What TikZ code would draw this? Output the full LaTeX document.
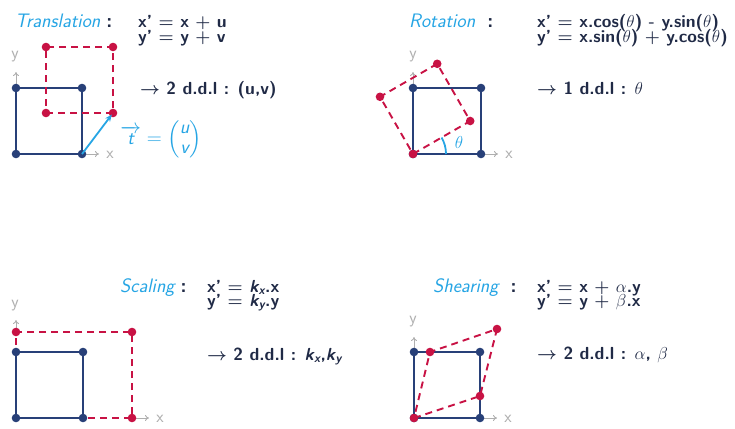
\documentclass[tikz,border=0pt]{standalone}
\usepackage{amsmath}
\usetikzlibrary{arrows.meta}
\definecolor{sqblue}{RGB}{40,64,120}
\definecolor{sqred}{RGB}{200,18,68}
\definecolor{ttl}{RGB}{38,165,228}
\definecolor{txt}{RGB}{32,42,70}
\definecolor{axg}{RGB}{175,175,175}
\newcommand{\si}[1]{\text{\sffamily\itshape #1}}
\newcommand{\beq}{{\boldmath$=$}}
\newcommand{\bpl}{{\boldmath$+$}}
\newcommand{\barr}{{\boldmath$\rightarrow$}}
\begin{document}
\begin{tikzpicture}[x=1pt,y=-1pt,
  every node/.style={font=\fontsize{18}{18}\selectfont\sffamily, text=txt, inner sep=0pt},
  bline/.style={draw=sqblue, line width=2.2pt},
  rline/.style={draw=sqred, line width=1.9pt, dash pattern=on 7pt off 5pt},
  axis/.style={draw=axg, line width=0.9pt, -{To[length=4pt,width=6pt]}},
  axlab/.style={text=axg, font=\fontsize{17}{17}\selectfont\sffamily},
  eqn/.style={anchor=base west, font=\fontsize{17.5}{18}\selectfont\sffamily\bfseries},
  ttlc/.style={anchor=base west, font=\fontsize{19.5}{20}\selectfont\sffamily}]
\useasboundingbox (0,0) rectangle (735,428);

% ---------- Translation ----------
\coordinate (tA) at (16,154); \coordinate (tB) at (82,154);
\coordinate (tC) at (82,88);  \coordinate (tD) at (16,88);
\coordinate (tE) at (46,113); \coordinate (tF) at (113,113);
\coordinate (tG) at (113,47); \coordinate (tH) at (46,47);
\coordinate (tX) at (99,154); \coordinate (tY) at (16,72);
\draw[axis] (tB) -- (tX);
\draw[axis] (tD) -- (tY);
\node[axlab] (tXl) at (110,155) {x};
\node[axlab] (tYl) at (15,57) {y};
\draw[bline] (tA) -- (tB) -- (tC) -- (tD) -- cycle;
\foreach \p in {tA,tB,tC,tD} \fill[sqblue] (\p) circle (4.3pt);
\draw[rline] (tE) -- (tF) -- (tG) -- (tH) -- cycle;
\foreach \p in {tE,tF,tG,tH} \fill[sqred] (\p) circle (4.3pt);
\draw[draw=ttl, line width=1.8pt, -{Stealth[length=7pt,width=6pt]}, shorten >=2pt] (tB) -- (tF);
\node[ttlc] (tT) at (15,28) {{\color{ttl}\itshape Translation} \textbf{:}};
\node[eqn] (tE1) at (138,28) {x' \beq{} x \bpl{} u};
\node[eqn] (tE2) at (138,42) {y' \beq{} y \bpl{} v};
\node[eqn] (tD1) at (140,94) {\barr{} 2 d.d.l : (u,v)};
\node[text=ttl, font=\fontsize{19.5}{20}\selectfont\sffamily] (tV) at (161,139) {\color{ttl}$\overrightarrow{\si{t}} = \begin{pmatrix}\si{u}\\ \si{v}\end{pmatrix}$};

% ---------- Rotation ----------
\coordinate (rA) at (413,154); \coordinate (rB) at (481,154);
\coordinate (rC) at (481,88);  \coordinate (rD) at (413,88);
\coordinate (rF) at (470.2,121); \coordinate (rG) at (437.2,63.8);
\coordinate (rH) at (380,96.8);
\coordinate (rX) at (498,154); \coordinate (rY) at (413,72);
\draw[axis] (rB) -- (rX);
\draw[axis] (rD) -- (rY);
\node[axlab] (rXl) at (509,155) {x};
\node[axlab] (rYl) at (413,57) {y};
\draw[bline] (rA) -- (rB) -- (rC) -- (rD) -- cycle;
\foreach \p in {rA,rB,rC,rD} \fill[sqblue] (\p) circle (4.3pt);
\draw[rline] (rA) -- (rF) -- (rG) -- (rH) -- cycle;
\foreach \p in {rA,rF,rG,rH} \fill[sqred] (\p) circle (4.3pt);
\draw[draw=ttl, line width=1.8pt] (446,154) arc[start angle=0, end angle=30, radius=33pt];
\node[text=ttl, font=\fontsize{19}{20}\selectfont\sffamily] (rTh) at (459,142) {\color{ttl}$\theta$};
\node[ttlc] (rT) at (409,28) {{\color{ttl}\itshape Rotation} \ \textbf{:}};
\node[eqn] (rE1) at (537,28) {x' \beq{} x.cos($\theta$) - y.sin($\theta$)};
\node[eqn] (rE2) at (537,42) {y' \beq{} x.sin($\theta$) \bpl{} y.cos($\theta$)};
\node[eqn] (rD1) at (537,94) {\barr{} 1 d.d.l : $\theta$};

% ---------- Scaling ----------
\coordinate (sA) at (16,418); \coordinate (sB) at (83,418);
\coordinate (sC) at (83,352); \coordinate (sD) at (16,352);
\coordinate (sE) at (132,418); \coordinate (sF) at (132,332);
\coordinate (sG) at (16,332);
\coordinate (sX) at (149,418); \coordinate (sY) at (16,320);
\draw[axis] (sE) -- (sX);
\draw[axis] (sG) -- (sY);
\node[axlab] (sXl) at (160,419) {x};
\node[axlab] (sYl) at (15,306) {y};
\draw[rline] (sA) -- (sE) -- (sF) -- (sG) -- cycle;
\foreach \p in {sE,sF,sG} \fill[sqred] (\p) circle (4.3pt);
\draw[bline] (sA) -- (sB) -- (sC) -- (sD) -- cycle;
\foreach \p in {sA,sB,sC,sD} \fill[sqblue] (\p) circle (4.3pt);
\node[ttlc] (sT) at (120,292) {{\color{ttl}\itshape Scaling} \textbf{:}};
\node[eqn] (sE1) at (207,292) {x' \beq{} $\si{k}_{\si{x}}$.x};
\node[eqn] (sE2) at (207,306) {y' \beq{} $\si{k}_{\si{y}}$.y};
\node[eqn] (sD1) at (207,360) {\barr{} 2 d.d.l : $\si{k}_{\si{x}}$,$\si{k}_{\si{y}}$};

% ---------- Shearing ----------
\coordinate (hA) at (414,418); \coordinate (hB) at (480,418);
\coordinate (hC) at (480,352); \coordinate (hD) at (414,352);
\coordinate (hE) at (480,396); \coordinate (hF) at (497,329);
\coordinate (hG) at (430,352);
\coordinate (hX) at (497,418); \coordinate (hY) at (414,337);
\draw[axis] (hB) -- (hX);
\draw[axis] (hD) -- (hY);
\node[axlab] (hXl) at (508,419) {x};
\node[axlab] (hYl) at (413,322) {y};
\draw[bline] (hA) -- (hB) -- (hC) -- (hD) -- cycle;
\foreach \p in {hA,hB,hC,hD} \fill[sqblue] (\p) circle (4.3pt);
\draw[rline] (hA) -- (hE) -- (hF) -- (hG) -- cycle;
\foreach \p in {hA,hE,hF,hG} \fill[sqred] (\p) circle (4.3pt);
\node[ttlc] (hT) at (433,292) {{\color{ttl}\itshape Shearing} \ \textbf{:}};
\node[eqn] (hE1) at (537,292) {x' \beq{} x \bpl{} $\alpha$.y};
\node[eqn] (hE2) at (537,306) {y' \beq{} y \bpl{} $\beta$.x};
\node[eqn] (hD1) at (537,359) {\barr{} 2 d.d.l : $\alpha$, $\beta$};
\end{tikzpicture}
\end{document}
